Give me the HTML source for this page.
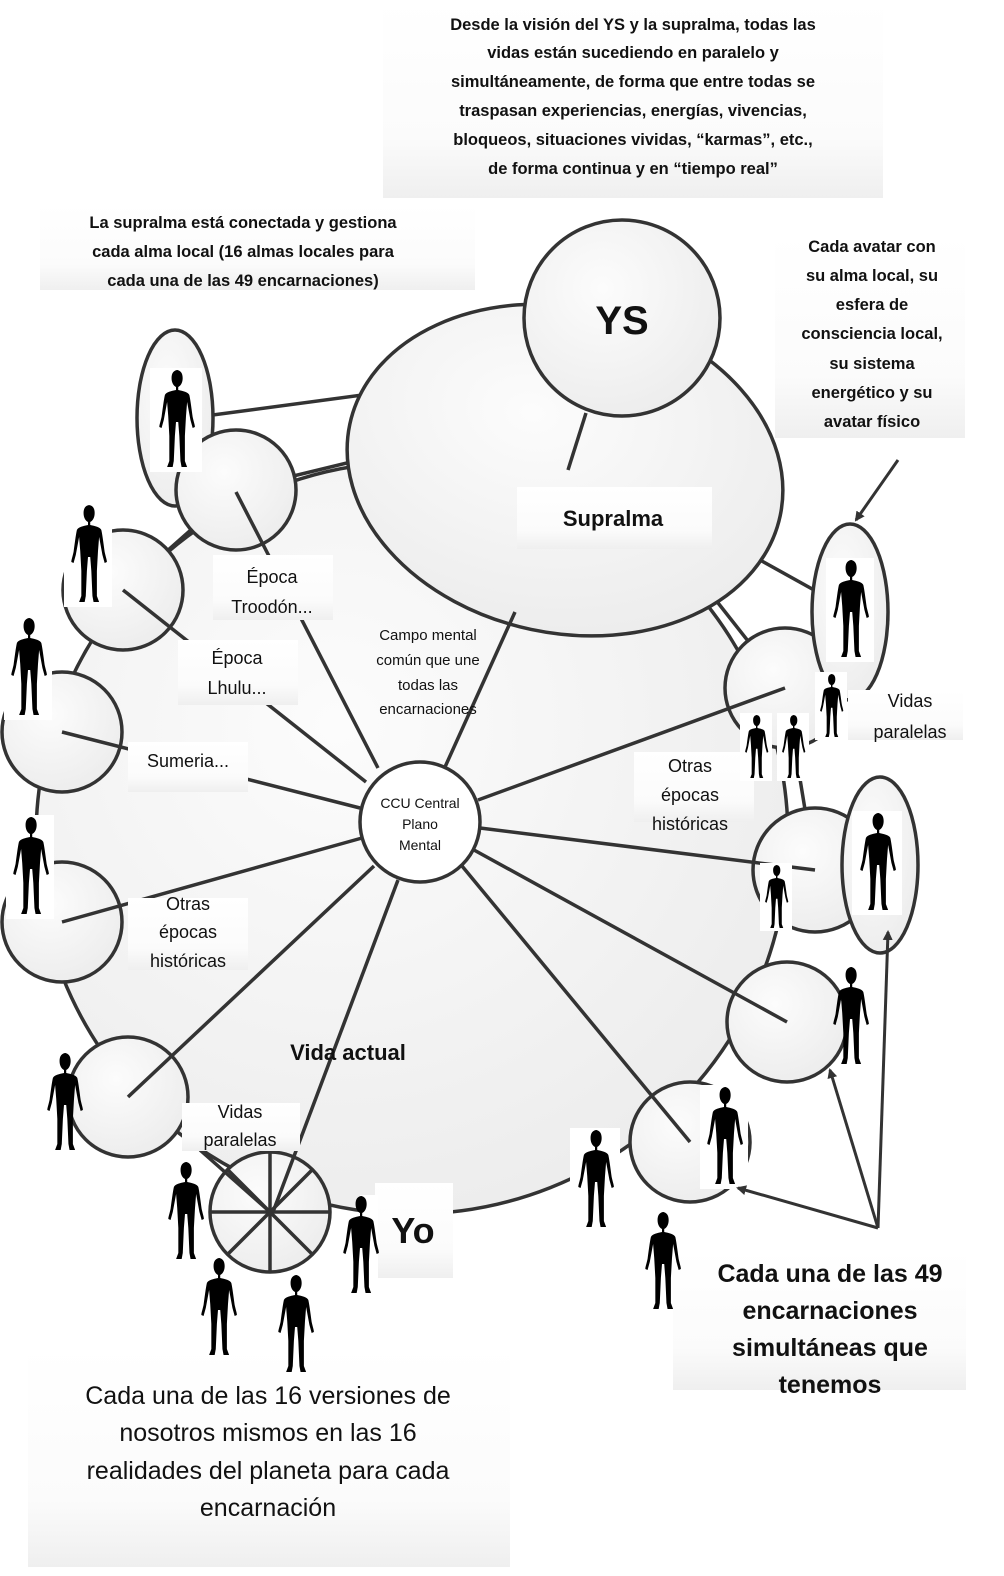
<!DOCTYPE html>
<html><head><meta charset="utf-8"><style>
html,body{margin:0;padding:0;background:#fff;}
svg{display:block;font-family:"Liberation Sans",sans-serif;}
</style></head><body>
<svg width="1004" height="1576" viewBox="0 0 1004 1576" xmlns="http://www.w3.org/2000/svg">
<defs>
<radialGradient id="g" cx="0.4" cy="0.35" r="0.75"><stop offset="0" stop-color="#fcfcfc"/><stop offset="1" stop-color="#ebebeb"/></radialGradient>
<linearGradient id="bx" x1="0" y1="0" x2="0" y2="1"><stop offset="0" stop-color="#fff"/><stop offset="0.7" stop-color="#fbfbfb"/><stop offset="1" stop-color="#efefef"/></linearGradient>
<symbol id="p" viewBox="0 0 36 100" preserveAspectRatio="none">
<path fill="#000" d="M18 0c4 0 6 3 6 8s-2 8-4 9v3c4 1 9 2 10 5 1 5 2 14 3 22 1 5 2 8 2 10l-2 1-2-8-3-18-1 14-1 20 0 25 2 6h-5l-1-6-1-25-1-14h-2l-1 14-1 25-1 6h-5l2-6 0-25-1-20-1-14-3 18-2 8-2-1c0-2 1-5 2-10 1-8 2-17 3-22 1-3 6-4 10-5v-3c-2-1-4-4-4-9s2-8 6-8z"/>
</symbol>
<marker id="ar" markerWidth="10" markerHeight="10" refX="8" refY="5" orient="auto" markerUnits="userSpaceOnUse"><path d="M0 0L10 5L0 10z" fill="#333"/></marker>
</defs>
<g stroke="#333" stroke-width="3.5" fill="url(#g)">
<line x1="175" y1="420" x2="400" y2="390" fill="none"/>
<line x1="236" y1="490" x2="400" y2="450" fill="none"/>
<line x1="236" y1="490" x2="123" y2="590" fill="none"/>
<line x1="123" y1="590" x2="62" y2="730" fill="none"/>
<line x1="760" y1="560" x2="850" y2="610" fill="none"/>
<line x1="785" y1="688" x2="700" y2="580" fill="none"/>
<line x1="785" y1="688" x2="815" y2="870" fill="none"/>
<circle cx="412" cy="838" r="376"/>
<ellipse cx="565" cy="470" rx="220" ry="163" transform="rotate(12 565 470)"/>
<circle cx="622" cy="318" r="98"/>
<ellipse cx="175" cy="418" rx="38" ry="88"/>
<circle cx="236" cy="490" r="60"/>
<circle cx="123" cy="590" r="60"/>
<circle cx="62" cy="732" r="60"/>
<circle cx="62" cy="922" r="60"/>
<circle cx="128" cy="1097" r="60"/>
<circle cx="270" cy="1212" r="60"/>
<circle cx="690" cy="1142" r="60"/>
<circle cx="787" cy="1022" r="60"/>
<circle cx="815" cy="870" r="62"/>
<circle cx="785" cy="688" r="60"/>
<ellipse cx="850" cy="612" rx="38" ry="88"/>
<ellipse cx="880" cy="865" rx="38" ry="88"/>
<circle cx="420" cy="822" r="60" fill="#fff"/>
<g fill="none">
<line x1="236" y1="492" x2="378" y2="768"/>
<line x1="123" y1="590" x2="366" y2="782"/>
<line x1="62" y1="732" x2="360" y2="808"/>
<line x1="62" y1="922" x2="362" y2="838"/>
<line x1="128" y1="1097" x2="374" y2="866"/>
<line x1="273" y1="1212" x2="398" y2="880"/>
<line x1="690" y1="1142" x2="462" y2="866"/>
<line x1="787" y1="1022" x2="474" y2="850"/>
<line x1="815" y1="870" x2="480" y2="828"/>
<line x1="785" y1="688" x2="478" y2="800"/>
<line x1="515" y1="612" x2="445" y2="767"/>
<line x1="586" y1="413" x2="568" y2="470"/>
<line x1="210" y1="1212" x2="330" y2="1212"/>
<line x1="270" y1="1152" x2="270" y2="1272"/>
<line x1="228" y1="1170" x2="312" y2="1254"/>
<line x1="228" y1="1254" x2="312" y2="1170"/>
<line x1="200" y1="1150" x2="270" y2="1212"/>
</g>
</g>
<g fill="url(#bx)">
<rect x="383" y="0" width="500" height="198"/>
<rect x="40" y="205" width="435" height="85"/>
<rect x="775" y="233" width="190" height="205"/>
<rect x="517" y="487" width="195" height="62"/>
<rect x="213" y="555" width="120" height="65"/>
<rect x="178" y="640" width="120" height="65"/>
<rect x="128" y="742" width="120" height="50"/>
<rect x="128" y="898" width="120" height="72"/>
<rect x="182" y="1103" width="118" height="48"/>
<rect x="375" y="1183" width="78" height="95"/>
<rect x="848" y="690" width="115" height="50"/>
<rect x="634" y="752" width="120" height="70"/>
<rect x="673" y="1250" width="293" height="140"/>
<rect x="28" y="1345" width="482" height="222"/>
</g>
<g>
<g fill="#fff">
<rect x="150" y="368" width="52" height="104"/><rect x="64" y="503" width="48" height="104"/>
<rect x="4" y="616" width="48" height="104"/><rect x="6" y="815" width="48" height="104"/>
<rect x="360" y="1195" width="18" height="100"/><rect x="570" y="1128" width="50" height="104"/>
<rect x="700" y="1085" width="48" height="104"/><rect x="826" y="558" width="48" height="104"/>
<rect x="852" y="811" width="50" height="104"/><rect x="740" y="713" width="32" height="68"/>
<rect x="777" y="713" width="32" height="68"/><rect x="815" y="672" width="32" height="68"/>
<rect x="760" y="863" width="32" height="68"/>
</g>
<use href="#p" x="156" y="370" width="40" height="100"/>
<use href="#p" x="68" y="505" width="40" height="100"/>
<use href="#p" x="8" y="618" width="40" height="100"/>
<use href="#p" x="10" y="817" width="40" height="100"/>
<use href="#p" x="44" y="1053" width="40" height="100"/>
<use href="#p" x="165" y="1162" width="40" height="100"/>
<use href="#p" x="198" y="1258" width="40" height="100"/>
<use href="#p" x="275" y="1275" width="40" height="100"/>
<use href="#p" x="340" y="1196" width="40" height="100"/>
<use href="#p" x="575" y="1130" width="40" height="100"/>
<use href="#p" x="642" y="1212" width="40" height="100"/>
<use href="#p" x="704" y="1087" width="40" height="100"/>
<use href="#p" x="830" y="967" width="40" height="100"/>
<use href="#p" x="830" y="560" width="40" height="100"/>
<use href="#p" x="857" y="813" width="40" height="100"/>
<use href="#p" x="818" y="674" width="26" height="65"/>
<use href="#p" x="743" y="715" width="26" height="65"/>
<use href="#p" x="780" y="715" width="26" height="65"/>
<use href="#p" x="763" y="865" width="26" height="65"/>
</g>
<g stroke="#333" stroke-width="3" fill="none" marker-end="url(#ar)">
<line x1="878" y1="1228" x2="738" y2="1188"/>
<line x1="878" y1="1228" x2="830" y2="1070"/>
<line x1="878" y1="1228" x2="888" y2="932"/>
<line x1="898" y1="460" x2="856" y2="520"/>
</g>
<g fill="#111" text-anchor="middle">
<g font-size="16.5" font-weight="bold">
<text x="633" y="30">Desde la visión del YS y la supralma, todas las</text>
<text x="633" y="58">vidas están sucediendo en paralelo y</text>
<text x="633" y="87">simultáneamente, de forma que entre todas se</text>
<text x="633" y="116">traspasan experiencias, energías, vivencias,</text>
<text x="633" y="145">bloqueos, situaciones vividas, “karmas”, etc.,</text>
<text x="633" y="174">de forma continua y en “tiempo real”</text>
<text x="243" y="228">La supralma está conectada y gestiona</text>
<text x="243" y="257">cada alma local (16 almas locales para</text>
<text x="243" y="286">cada una de las 49 encarnaciones)</text>
<text x="872" y="252">Cada avatar con</text>
<text x="872" y="281">su alma local, su</text>
<text x="872" y="310">esfera de</text>
<text x="872" y="339">consciencia local,</text>
<text x="872" y="369">su sistema</text>
<text x="872" y="398">energético y su</text>
<text x="872" y="427">avatar físico</text>
</g>
<text x="622" y="334" font-size="40" font-weight="bold">YS</text>
<text x="613" y="526" font-size="22" font-weight="bold">Supralma</text>
<g font-size="18">
<text x="272" y="583">Época</text><text x="272" y="613">Troodón...</text>
<text x="237" y="664">Época</text><text x="237" y="694">Lhulu...</text>
<text x="188" y="767">Sumeria...</text>
<text x="188" y="910">Otras</text><text x="188" y="938">épocas</text><text x="188" y="967">históricas</text>
<text x="240" y="1118">Vidas</text><text x="240" y="1146">paralelas</text>
<text x="910" y="707">Vidas</text><text x="910" y="738">paralelas</text>
<text x="690" y="772">Otras</text><text x="690" y="801">épocas</text><text x="690" y="830">históricas</text>
</g>
<g font-size="15">
<text x="428" y="640">Campo mental</text><text x="428" y="665">común que une</text>
<text x="428" y="690">todas las</text><text x="428" y="714">encarnaciones</text>
</g>
<g font-size="14">
<text x="420" y="808">CCU Central</text><text x="420" y="829">Plano</text><text x="420" y="850">Mental</text>
</g>
<text x="348" y="1060" font-size="22" font-weight="bold">Vida actual</text>
<text x="413" y="1243" font-size="36" font-weight="bold">Yo</text>
<g font-size="25" font-weight="bold">
<text x="830" y="1282">Cada una de las 49</text>
<text x="830" y="1319">encarnaciones</text>
<text x="830" y="1356">simultáneas que</text>
<text x="830" y="1393">tenemos</text>
</g>
<g font-size="25">
<text x="268" y="1404">Cada una de las 16 versiones de</text>
<text x="268" y="1441">nosotros mismos en las 16</text>
<text x="268" y="1479">realidades del planeta para cada</text>
<text x="268" y="1516">encarnación</text>
</g>
</g>
</svg>
</body></html>
